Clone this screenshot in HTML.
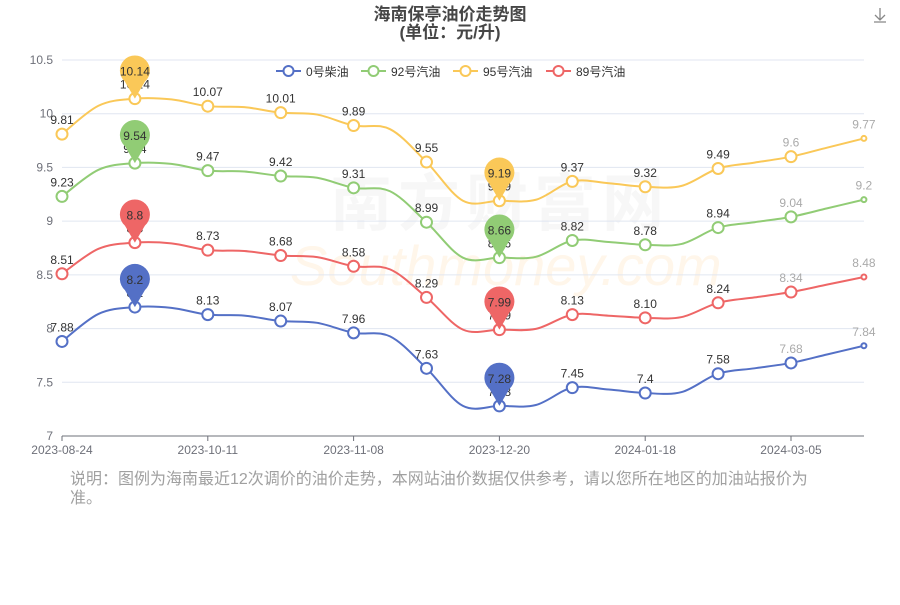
<!DOCTYPE html>
<html><head><meta charset="utf-8"><style>
body{margin:0;background:#fff;width:900px;height:600px;overflow:hidden;font-family:"Liberation Sans","Noto Sans CJK SC",sans-serif}
</style></head><body>
<svg id="s" width="900" height="600" xmlns="http://www.w3.org/2000/svg" font-family="Liberation Sans, Noto Sans CJK SC, sans-serif">
<text x="450" y="20" text-anchor="middle" font-size="17" font-weight="bold" fill="#464646">海南保亭油价走势图</text>
<text x="450" y="38" text-anchor="middle" font-size="17" font-weight="bold" fill="#464646">(单位：元/升)</text>
<text x="330" y="225" font-size="62" fill="#f7f7f7" font-weight="bold" letter-spacing="6">南方财富网</text>
<text x="290" y="285" font-size="56" fill="#fff6ea" font-style="italic">Southmoney.com</text>
<g id="g"></g>
<text x="70" y="484" font-size="16" fill="#a0a0a0">说明：图例为海南最近12次调价的油价走势，本网站油价数据仅供参考，请以您所在地区的加油站报价为</text>
<text x="70" y="503" font-size="16" fill="#a0a0a0">准。</text>
<path d="M880 8v12M875 15l5 5 5-5M874 22h12" stroke="#888" fill="none" stroke-width="1.3"/>
</svg>
<script>
const g=document.getElementById('g');let h='';
const Y=v=>436-(v-7)*107.43;const X=i=>62+i*72.9;
[10.5,10,9.5,9,8.5,8,7.5,7].forEach(v=>{const y=Y(v);h+=`<line x1="62" x2="864" y1="${y}" y2="${y}" stroke="${v==7?'#6e7079':'#e0e6f1'}"/>`;h+=`<text x="53" y="${y+4}" text-anchor="end" font-size="12" fill="#6e7079">${v}</text>`;});
['2023-08-24','2023-10-11','2023-11-08','2023-12-20','2024-01-18','2024-03-05'].forEach((t,k)=>{const x=X(k*2);h+=`<line x1="${x}" x2="${x}" y1="436" y2="441" stroke="#6e7079"/><text x="${x}" y="454" text-anchor="middle" font-size="12" fill="#6e7079">${t}</text>`;});
const S=[['0号柴油','#5470c6',[7.88,8.2,8.13,8.07,7.96,7.63,7.28,7.45,7.4,7.58,7.68,7.84]],
['92号汽油','#91cc75',[9.23,9.54,9.47,9.42,9.31,8.99,8.66,8.82,8.78,8.94,9.04,9.2]],
['95号汽油','#fac858',[9.81,10.14,10.07,10.01,9.89,9.55,9.19,9.37,9.32,9.49,9.6,9.77]],
['89号汽油','#ee6666',[8.51,8.8,8.73,8.68,8.58,8.29,7.99,8.13,8.10,8.24,8.34,8.48]]];
const mf=[0.8,0.1,0.15,0.15,0.1,1.0,0.05,0.35,0.05,0.5,0.5];
const lx=[276,361,453,546];
S.forEach((s,k)=>{const c=s[1],d=s[2];
const P=[];for(let i=0;i<d.length;i++){P.push([X(i),Y(d[i])]);if(i<d.length-1)P.push([(X(i)+X(i+1))/2,Y(d[i]+(d[i+1]-d[i])*mf[i])]);}
let p=`M${P[0][0]} ${P[0][1]}`;const t=0.5/3;
for(let i=0;i<P.length-1;i++){const p0=P[Math.max(0,i-1)],p1=P[i],p2=P[i+1],p3=P[Math.min(P.length-1,i+2)];
p+=` C${p1[0]+(p2[0]-p0[0])*t} ${p1[1]+(p2[1]-p0[1])*t} ${p2[0]-(p3[0]-p1[0])*t} ${p2[1]-(p3[1]-p1[1])*t} ${p2[0]} ${p2[1]}`;}
h+=`<path d="${p}" fill="none" stroke="${c}" stroke-width="2"/>`;
d.forEach((v,i)=>{const x=X(i),y=Y(v);const r=i==11?2.5:5.5;h+=`<circle cx="${x}" cy="${y}" r="${r}" fill="#fff" stroke="${c}" stroke-width="2"/>`;
const fs=i>=10?'#aaa':'#333';h+=`<text x="${x}" y="${y-10}" text-anchor="middle" font-size="12" fill="${fs}">${v.toFixed(i==8&&k==3?2:(String(v).split('.')[1]||'').length)}</text>`;});
[[1,d[1]],[6,d[6]]].forEach(([i,v])=>{const x=X(i),y=Y(v),cy=y-27;h+=`<path d="M${x} ${y} L${x-10} ${cy+10} A15 15 0 1 1 ${x+10} ${cy+10} Z" fill="${c}"/><text x="${x}" y="${cy+4}" text-anchor="middle" font-size="12" fill="#333">${v}</text>`;});
const L=lx[k];h+=`<line x1="${L}" x2="${L+25}" y1="71" y2="71" stroke="${c}" stroke-width="2"/><circle cx="${L+12.5}" cy="71" r="5" fill="#fff" stroke="${c}" stroke-width="2"/><text x="${L+30}" y="76" font-size="12" fill="#333">${s[0]}</text>`;});
g.innerHTML=h;
</script>
</body></html>
